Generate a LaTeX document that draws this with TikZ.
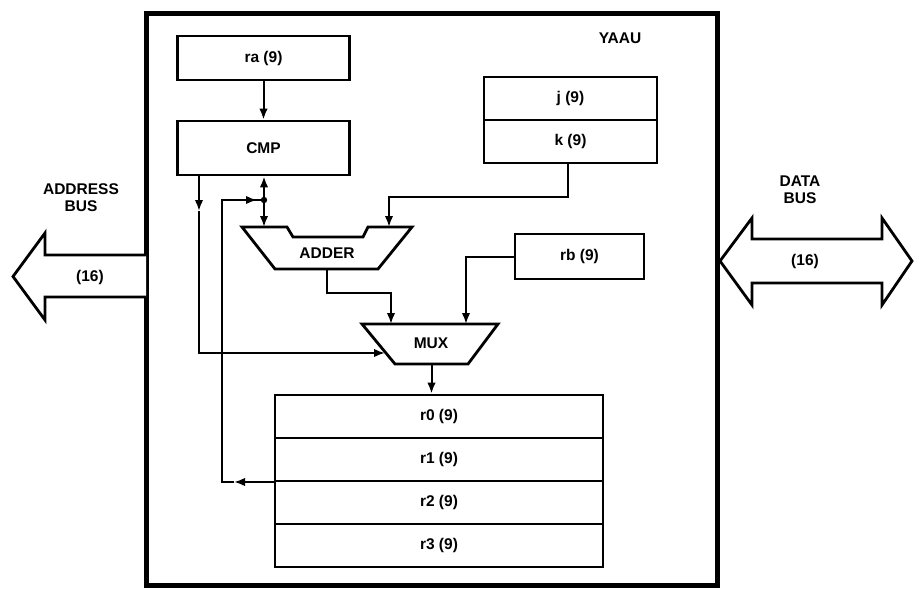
\documentclass[tikz,border=0pt]{standalone}
\usepackage{fontspec}
\setmainfont{Liberation Sans}
\usetikzlibrary{arrows.meta}
\begin{document}
\begin{tikzpicture}[x=1pt,y=-1pt,
  lbl/.style={font=\bfseries\fontsize{15.5}{17}\selectfont, inner sep=0pt, align=center},
  regbox/.style={draw, line width=2.8pt, rectangle, inner sep=0pt,
    font=\bfseries\fontsize{15.5}{17}\selectfont},
  wire/.style={line width=2pt, line join=miter},
  arr/.style={wire, -{Latex[length=11pt,width=8.5pt]}},
  unit/.style={line width=2.8pt, line join=miter, fill=white},
  bus/.style={line width=2.8pt, line join=miter, fill=white}
]
\useasboundingbox (0,0) rectangle (918,590);

% outer YAAU frame
\draw[line width=5pt] (146,13) rectangle (717,585);
\node[lbl] (yaau) at (620,38) {YAAU};

% registers
\node[regbox, minimum width=172pt, minimum height=44pt] (ra) at (263.5,58) {ra (9)};
\node[regbox, minimum width=172pt, minimum height=54pt] (cmp) at (263.5,148) {CMP};
\node[regbox, minimum width=173pt, minimum height=43pt] (j) at (570.5,98.5) {j (9)};
\node[regbox, minimum width=173pt, minimum height=43pt] (k) at (570.5,141.5) {k (9)};
\node[regbox, minimum width=129pt, minimum height=45pt] (rb) at (579.5,256.5) {rb (9)};
\node[regbox, minimum width=328pt, minimum height=43pt] (r0) at (439,416.5) {r0 (9)};
\node[regbox, minimum width=328pt, minimum height=43pt] (r1) at (439,459.5) {r1 (9)};
\node[regbox, minimum width=328pt, minimum height=43pt] (r2) at (439,502.5) {r2 (9)};
\node[regbox, minimum width=328pt, minimum height=43pt] (r3) at (439,545.5) {r3 (9)};

% ADDER
\coordinate (adTL) at (242,227);
\coordinate (adTR) at (412,227);
\coordinate (adBL) at (275,269);
\coordinate (adBR) at (378,269);
\draw[unit] (adTL) -- (287,227) -- (293,237) -- (363,237) -- (368,227) -- (adTR)
  -- (adBR) -- (adBL) -- cycle;
\node[lbl] (adder) at (327,253) {ADDER};

% MUX
\coordinate (muxTL) at (362,324);
\coordinate (muxTR) at (498,324);
\coordinate (muxBL) at (395,364);
\coordinate (muxBR) at (468,364);
\draw[unit] (muxTL) -- (muxTR) -- (muxBR) -- (muxBL) -- cycle;
\node[lbl] (mux) at (431,343) {MUX};

% address bus
\draw[bus] (146,255) -- (45,255) -- (45,233) -- (13,276.5) -- (45,320) -- (45,297) -- (146,297);
\node[lbl] (abus) at (81,198) {ADDRESS\\BUS};
\node[lbl] (a16) at (90,277) {(16)};

% data bus
\draw[bus] (720,261) -- (752,218) -- (752,239) -- (882,239) -- (882,218) -- (912,261)
  -- (882,305) -- (882,283) -- (752,283) -- (752,305) -- cycle;
\node[lbl] (dbus) at (800,190) {DATA\\BUS};
\node[lbl] (d16) at (805,261) {(16)};

% connectors
\draw[arr] (ra.south) -- (cmp.north);

% CMP -> MUX select
\coordinate (cmpL) at (199,175);
\coordinate (cmpLm) at (199,211);
\coordinate (selC) at (199,353);
\coordinate (muxIn) at (385,353);
\draw[arr] (cmpL) -- (cmpLm);
\draw[arr] (cmpLm) -- (selC) -- (muxIn);

% feedback from register file
\coordinate (rfb) at (275,482);
\coordinate (fbm) at (234,482);
\coordinate (fbc) at (222,482);
\coordinate (fbt) at (222,200);
\coordinate (jm) at (257,200);
\coordinate (junc) at (264,200);
\draw[arr] (rfb) -- (fbm);
\draw[wire] (fbm) -- (fbc) -- (fbt) -- (junc);
\draw[arr] (fbt) -- (jm);
\fill (junc) circle (3.2pt);
\draw[arr] (junc) -- (cmp.south -| junc);
\draw[arr] (junc) -- (264,227);

% k -> ADDER
\coordinate (kout) at (568,163);
\coordinate (kc) at (568,197);
\coordinate (kd) at (389,197);
\coordinate (adIn) at (389,227);
\draw[arr] (kout) -- (kc) -- (kd) -- (adIn);

% ADDER -> MUX
\coordinate (adOut) at (326.5,269);
\coordinate (ao1) at (326.5,293);
\coordinate (ao2) at (391,293);
\coordinate (muxIn1) at (391,324);
\draw[arr] (adOut) -- (ao1) -- (ao2) -- (muxIn1);

% rb -> MUX
\coordinate (rb1) at (466,256.5);
\coordinate (muxIn2) at (466,324);
\draw[arr] (rb.west) -- (rb1) -- (muxIn2);

% MUX -> registers
\coordinate (muxOut) at (431.5,364);
\draw[arr] (muxOut) -- (r0.north -| muxOut);
\end{tikzpicture}
\end{document}
